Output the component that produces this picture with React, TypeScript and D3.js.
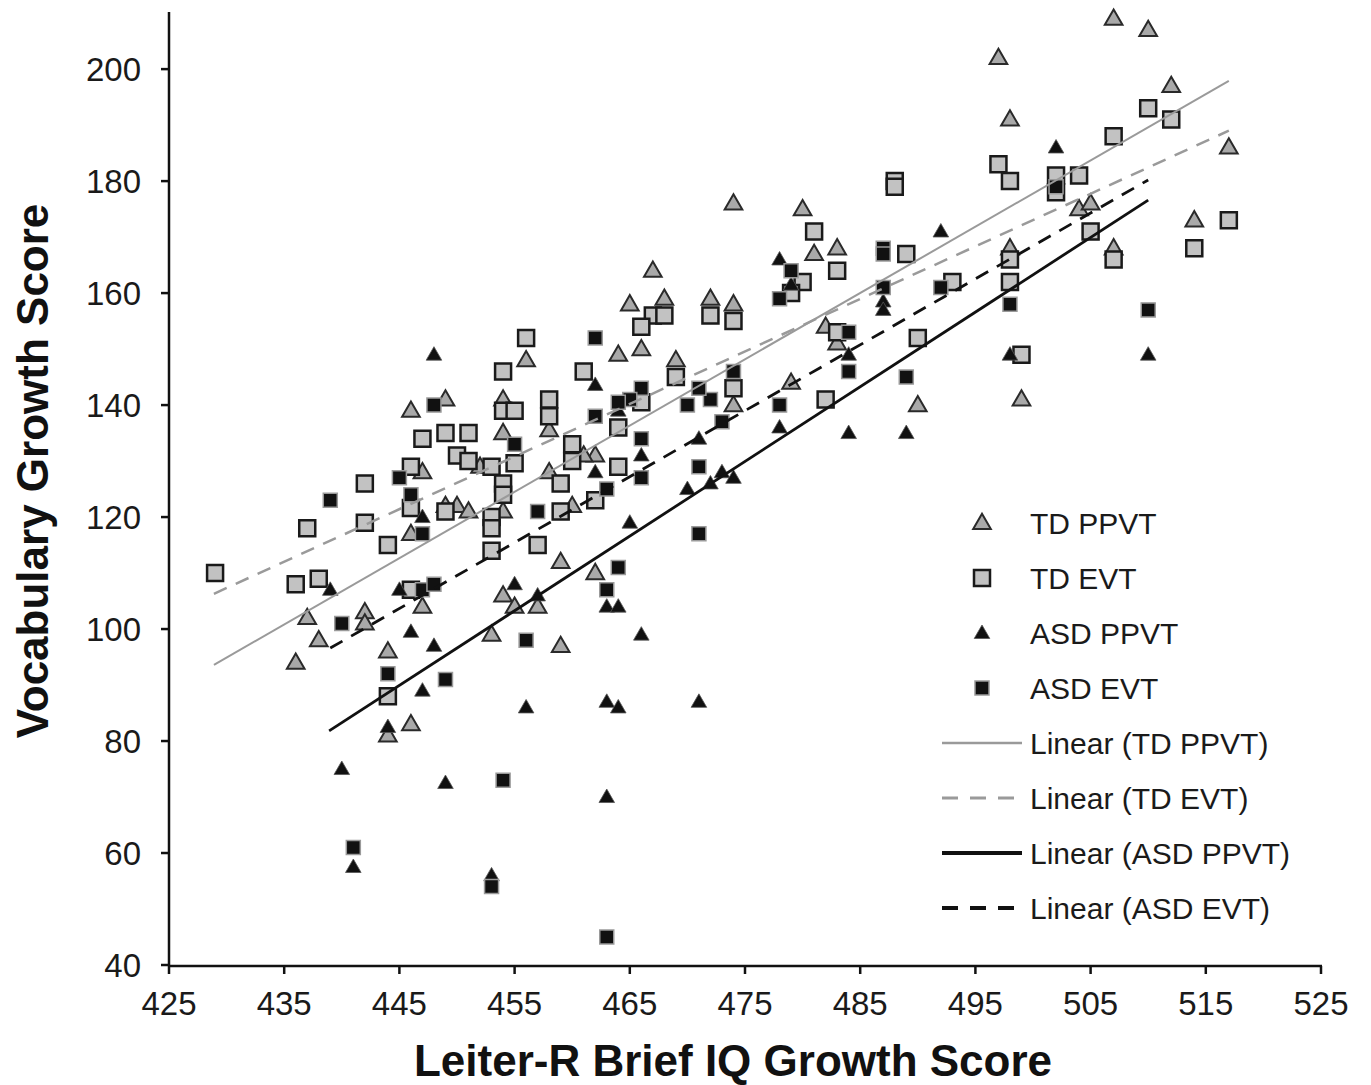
import React from "react";
import * as d3 from "d3";

const W = 1371;
const H = 1085;

const xTicks = [425, 435, 445, 455, 465, 475, 485, 495, 505, 515, 525];
const yTicks = [40, 60, 80, 100, 120, 140, 160, 180, 200];

const tdPpvt: [number, number][] = [
  [497, 202], [507, 209], [510, 207], [512, 197], [498, 191], [517, 186],
  [474, 176], [480, 175], [481, 167], [483, 168], [467, 164], [465, 158], [468, 159], [472, 159], [474, 158],
  [482, 154], [483, 151], [490, 140], [499, 141], [504, 175], [505, 176], [498, 168], [507, 168], [514, 173],
  [479, 144], [474, 140], [469, 148], [464, 149], [466, 150], [462, 131], [461, 131], [458, 128], [460, 122], [459, 112], [462, 110], [459, 97],
  [438, 98], [436, 94], [444, 96], [444, 81], [446, 83], [453, 99],
  [456, 148], [454, 141], [458, 135.5], [454, 135], [449, 141], [446, 139], [452, 129], [447, 128], [446, 117], [449, 122], [450, 122], [451, 121], [454, 121],
  [437, 102], [442, 103], [442, 101], [447, 104], [454, 106], [455, 104], [457, 104],
];

const tdEvt: [number, number][] = [
  [510, 193], [512, 191], [507, 188], [497, 183], [498, 180], [502, 181], [504, 181], [502, 178], [505, 171], [498, 166], [498, 162], [507, 166], [517, 173], [514, 168], [493, 162], [499, 149],
  [488, 180], [488, 179], [481, 171], [483, 164], [480, 162], [479, 160], [467, 156], [468, 156], [466, 154], [472, 156], [474, 155], [489, 167], [483, 153], [490, 152],
  [482, 141], [474, 143], [469, 145], [461, 146], [466, 140.5], [464, 136], [464, 129], [460, 133], [460, 130], [459, 126], [462, 123], [459, 121], [457, 115],
  [444, 88],
  [456, 152], [454, 146], [454, 139], [455, 139], [458, 141], [458, 138], [455, 129.6], [447, 134], [449, 135], [451, 135], [450, 131], [451, 130], [453, 129], [454, 126], [454, 124], [446, 129], [446, 121.6], [442, 126], [442, 119], [437, 118], [444, 115], [449, 121], [453, 120], [453, 118], [453, 114],
  [429, 110], [436, 108], [438, 109], [446, 107],
];

const asdPpvt: [number, number][] = [
  [502, 186], [492, 171], [478, 166], [479, 161.5], [487, 158.5], [487, 157], [498, 149], [510, 149], [484, 149], [484, 135], [489, 135], [478, 136], [471, 134], [462, 143.6], [464, 139], [466, 131], [462, 128], [465, 119], [470, 125], [472, 126], [473, 128], [474, 127], [463, 104], [464, 104], [466, 99], [463, 87], [464, 86], [471, 87], [463, 70],
  [444, 82.5], [448, 97], [447, 89], [456, 86], [440, 75], [449, 72.5], [441, 57.5], [453, 56],
  [448, 149], [447, 120], [439, 107], [445, 107], [446, 99.5], [455, 108], [457, 106],
];

const asdEvt: [number, number][] = [
  [502, 179], [487, 168], [487, 167], [479, 164], [478, 159], [487, 161], [492, 161], [484, 153], [462, 152], [498, 158], [510, 157],
  [484, 146], [489, 145], [478, 140], [473, 137], [474, 146], [470, 140], [472, 141], [471, 143], [466, 143], [465, 141], [464, 140.5], [462, 138], [466, 134], [466, 127], [463, 125], [457, 121], [464, 111], [463, 107], [471, 129], [471, 117], [463, 45],
  [444, 92], [449, 91], [454, 73], [441, 61], [453, 54], [456, 98],
  [455, 133], [448, 140], [445, 127], [446, 124], [447, 117], [439, 123], [447, 107], [448, 108], [440, 101],
];

// trend lines: [xStart, yStart, xEnd, yEnd]
const trendTdPpvt = [428.9, 93.6, 517, 197.9];
const trendTdEvt = [428.9, 106.3, 517, 189];
const trendAsdPpvt = [438.9, 81.8, 510, 176.6];
const trendAsdEvt = [439, 96.6, 510, 180.2];

const legendLabels = [
  "TD PPVT", "TD EVT", "ASD PPVT", "ASD EVT",
  "Linear (TD PPVT)", "Linear (TD EVT)", "Linear (ASD PPVT)", "Linear (ASD EVT)",
];

const FONT = "'Liberation Sans', Arial, Helvetica, sans-serif";

const styles = {
  tdPpvt: { fill: "#a9a9a9", stroke: "#2a2a2a", sw: 2 },
  tdEvt: { fill: "#c2c2c2", stroke: "#1a1a1a", sw: 2.5 },
  asdPpvt: { fill: "#111", stroke: "#555", sw: 0.8 },
  asdEvt: { fill: "#111", stroke: "#9a9a9a", sw: 1.5 },
};

const lineStyles = [
  { stroke: "#9a9a9a", sw: 2, dash: "" },
  { stroke: "#9a9a9a", sw: 2.5, dash: "14,10" },
  { stroke: "#111", sw: 2.8, dash: "" },
  { stroke: "#111", sw: 2.8, dash: "14,10" },
];

export default function App() {
  const x = d3.scaleLinear().domain([425, 525]).range([169, 1321]);
  const y = d3.scaleLinear().domain([40, 210.2]).range([965, 12]);

  const triBig = d3.symbol().type(d3.symbolTriangle).size(135)() as string;
  const triSmall = d3.symbol().type(d3.symbolTriangle).size(105)() as string;
  const sqBig = d3.symbol().type(d3.symbolSquare).size(256)() as string;
  const sqSmall = d3.symbol().type(d3.symbolSquare).size(196)() as string;

  const series = [
    { data: tdPpvt, path: triBig, st: styles.tdPpvt, dy: 1 },
    { data: tdEvt, path: sqBig, st: styles.tdEvt, dy: 0 },
    { data: asdPpvt, path: triSmall, st: styles.asdPpvt, dy: 1 },
    { data: asdEvt, path: sqSmall, st: styles.asdEvt, dy: 0 },
  ];
  const trends = [trendTdPpvt, trendTdEvt, trendAsdPpvt, trendAsdEvt];

  const legendX = 982;
  const legendTextX = 1030;
  const legendY0 = 523;
  const legendStep = 55;

  return (
    <div style={{ position: "absolute", left: 0, top: 0 }}>
      <svg width={W} height={H} style={{ display: "block", background: "#fff" }}>
        {series.map((s, si) => (
          <g key={si}>
            {s.data.map((d, i) => (
              <path
                key={i}
                d={s.path}
                transform={`translate(${x(d[0])},${y(d[1]) + s.dy})`}
                fill={s.st.fill}
                stroke={s.st.stroke}
                strokeWidth={s.st.sw}
                strokeLinejoin="miter"
              />
            ))}
          </g>
        ))}
        {trends.map((t, i) => (
          <line
            key={i}
            x1={x(t[0])}
            y1={y(t[1])}
            x2={x(t[2])}
            y2={y(t[3])}
            stroke={lineStyles[i].stroke}
            strokeWidth={lineStyles[i].sw}
            strokeDasharray={lineStyles[i].dash || undefined}
          />
        ))}
        <line x1={169} y1={12} x2={169} y2={966} stroke="#111" strokeWidth={2.5} />
        <line x1={168} y1={966} x2={1322} y2={966} stroke="#111" strokeWidth={2.5} />
        {yTicks.map((t) => (
          <g key={t}>
            <line x1={161} x2={169} y1={y(t)} y2={y(t)} stroke="#111" strokeWidth={2.5} />
            <text x={141} y={y(t)} dy="0.36em" textAnchor="end" fontFamily={FONT} fontSize={33} fill="#1a1a1a">
              {t}
            </text>
          </g>
        ))}
        {xTicks.map((t) => (
          <g key={t}>
            <line x1={x(t)} x2={x(t)} y1={966} y2={974} stroke="#111" strokeWidth={2.5} />
            <text x={x(t)} y={1015} textAnchor="middle" fontFamily={FONT} fontSize={33} fill="#1a1a1a">
              {t}
            </text>
          </g>
        ))}
        <text
          x={733}
          y={1076}
          textAnchor="middle"
          fontFamily={FONT}
          fontSize={44}
          fontWeight="bold"
          fill="#111"
        >
          Leiter-R Brief IQ Growth Score
        </text>
        <text
          transform={`translate(48,471) rotate(-90)`}
          textAnchor="middle"
          fontFamily={FONT}
          fontSize={44}
          fontWeight="bold"
          fill="#111"
        >
          Vocabulary Growth Score
        </text>
        {legendLabels.map((lab, i) => {
          const cy = legendY0 + i * legendStep;
          let sym: React.ReactNode = null;
          if (i < 4) {
            const s = series[i];
            sym = (
              <path
                d={s.path}
                transform={`translate(${legendX},${cy + s.dy})`}
                fill={s.st.fill}
                stroke={s.st.stroke}
                strokeWidth={s.st.sw}
              />
            );
          } else {
            const ls = lineStyles[i - 4];
            sym = (
              <line
                x1={942}
                x2={1022}
                y1={cy}
                y2={cy}
                stroke={ls.stroke}
                strokeWidth={ls.sw + (i >= 6 ? 1 : 0.5)}
                strokeDasharray={ls.dash ? "16,12" : undefined}
              />
            );
          }
          return (
            <g key={lab}>
              {sym}
              <text x={legendTextX} y={cy} dy="0.36em" fontFamily={FONT} fontSize={30} fill="#1a1a1a">
                {lab}
              </text>
            </g>
          );
        })}
      </svg>
    </div>
  );
}
